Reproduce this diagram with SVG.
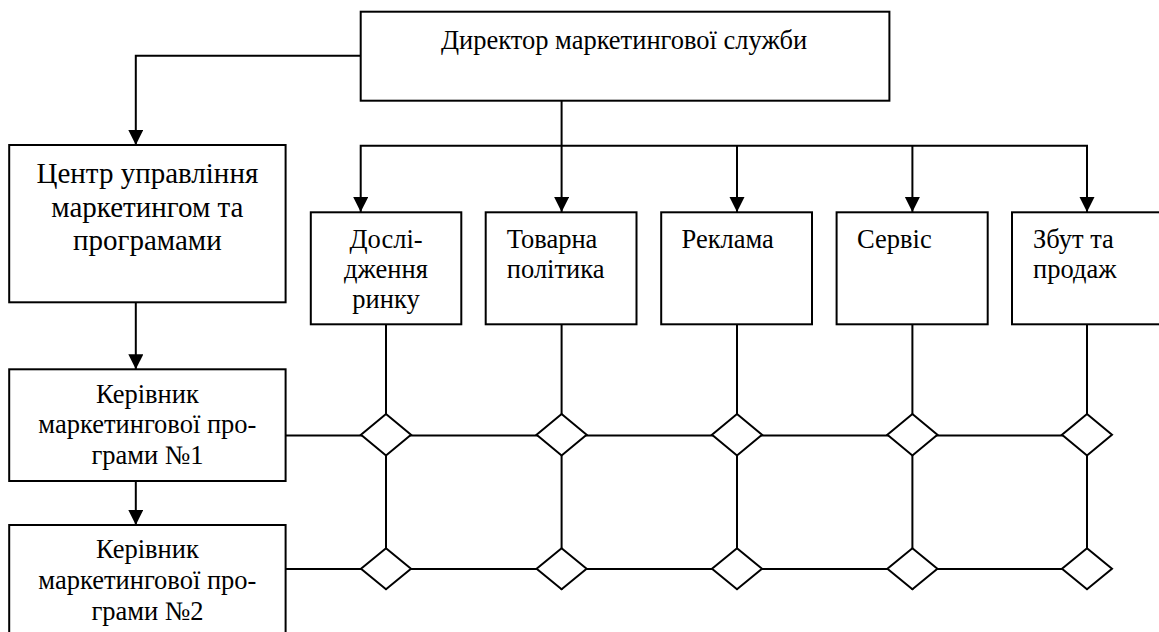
<svg xmlns="http://www.w3.org/2000/svg" width="1159" height="632" viewBox="0 0 1159 632">
<style>
.box{fill:#fff;stroke:#000;stroke-width:2}
.ln{fill:none;stroke:#000;stroke-width:2}
.dia{fill:#fff;stroke:#000;stroke-width:2}
text{font-family:"Liberation Serif","Times New Roman",serif;fill:#000}
.t22{font-size:26.5px}
.t26{font-size:29px}
.c{text-anchor:middle}
</style>
<defs>
<marker id="ah" markerUnits="userSpaceOnUse" markerWidth="16" markerHeight="16" refX="15" refY="7.5" orient="auto">
<path d="M0,0 L15,7.5 L0,15 Z" fill="#000"/>
</marker>
</defs>
<rect width="1159" height="632" fill="#fff"/>
<g id="connectors">
<path class="ln" d="M360.7,55.7 H135.8 V145" marker-end="url(#ah)"/>
<path class="ln" d="M561.6,100.7 V212" marker-end="url(#ah)"/>
<path class="ln" d="M561.6,145.7 H360.7 V212" marker-end="url(#ah)"/>
<path class="ln" d="M561.6,145.7 H1087 V212" marker-end="url(#ah)"/>
<path class="ln" d="M737,145.7 V212" marker-end="url(#ah)"/>
<path class="ln" d="M912.4,145.7 V212" marker-end="url(#ah)"/>
<path class="ln" d="M135.8,302.3 V369.3" marker-end="url(#ah)"/>
<path class="ln" d="M135.8,481 V525" marker-end="url(#ah)"/>
<path class="ln" d="M386,324.5 V590 M561.6,324.5 V590 M737,324.5 V590 M912.4,324.5 V590 M1087,324.5 V590"/>
<path class="ln" d="M285.6,435.5 H1087 M285.6,569 H1087"/>
</g>
<g id="director">
<rect class="box" x="360.7" y="11.7" width="528.7" height="89"/>
<text class="t22 c" x="624" y="49">Директор маркетингової служби</text>
</g>
<g id="centre">
<rect class="box" x="9.2" y="145" width="276.4" height="157.3"/>
<text class="t26 c" x="147.4" y="182.7">Центр управління</text>
<text class="t26 c" x="147.4" y="216.7">маркетингом та</text>
<text class="t26 c" x="147.4" y="250">програмами</text>
</g>
<g id="research">
<rect class="box" x="310.8" y="212.3" width="150.5" height="112"/>
<text class="t22 c" x="386" y="248.3">Дослі-</text>
<text class="t22 c" x="386" y="278.3">дження</text>
<text class="t22 c" x="386" y="308.3">ринку</text>
</g>
<g id="product">
<rect class="box" x="485.7" y="212.3" width="150.8" height="112"/>
<text class="t22" x="506.8" y="248.3">Товарна</text>
<text class="t22" x="506.8" y="278.3">політика</text>
</g>
<g id="advert">
<rect class="box" x="661.2" y="212.3" width="150.8" height="112"/>
<text class="t22" x="681.5" y="248.3">Реклама</text>
</g>
<g id="service">
<rect class="box" x="836.6" y="212.3" width="151.1" height="112"/>
<text class="t22" x="857" y="248.3">Сервіс</text>
</g>
<g id="sales">
<rect class="box" x="1012" y="212.3" width="151" height="112"/>
<text class="t22" x="1033" y="248.3">Збут та</text>
<text class="t22" x="1033" y="278.3">продаж</text>
</g>
<g id="manager1">
<rect class="box" x="9.2" y="369.3" width="276.4" height="111.7"/>
<text class="t22 c" x="147.4" y="403.3">Керівник</text>
<text class="t22 c" x="147.4" y="433.3">маркетингової про-</text>
<text class="t22 c" x="147.4" y="464">грами №1</text>
</g>
<g id="manager2">
<rect class="box" x="9.2" y="525" width="276.4" height="120"/>
<text class="t22 c" x="147.4" y="558.3">Керівник</text>
<text class="t22 c" x="147.4" y="589.3">маркетингової про-</text>
<text class="t22 c" x="147.4" y="620">грами №2</text>
</g>
<g id="junctions">
<polygon id="j11" class="dia" points="386,414 411,434.7 386,455.4 361,434.7"/>
<polygon id="j12" class="dia" points="561.6,414 586.6,434.7 561.6,455.4 536.6,434.7"/>
<polygon id="j13" class="dia" points="737,414 762,434.7 737,455.4 712,434.7"/>
<polygon id="j14" class="dia" points="912.4,414 937.4,434.7 912.4,455.4 887.4,434.7"/>
<polygon id="j15" class="dia" points="1087,414 1112,434.7 1087,455.4 1062,434.7"/>
<polygon id="j21" class="dia" points="386,548.3 411,568.8 386,589.3 361,568.8"/>
<polygon id="j22" class="dia" points="561.6,548.3 586.6,568.8 561.6,589.3 536.6,568.8"/>
<polygon id="j23" class="dia" points="737,548.3 762,568.8 737,589.3 712,568.8"/>
<polygon id="j24" class="dia" points="912.4,548.3 937.4,568.8 912.4,589.3 887.4,568.8"/>
<polygon id="j25" class="dia" points="1087,548.3 1112,568.8 1087,589.3 1062,568.8"/>
</g>
</svg>
